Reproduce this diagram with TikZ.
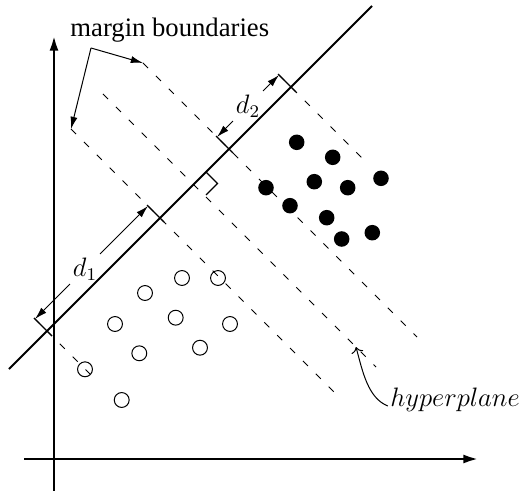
\documentclass[tikz,border=0pt]{standalone}
\usepackage{fontspec}
\setmainfont{Liberation Serif}
\usetikzlibrary{arrows.meta}
\begin{document}
\begin{tikzpicture}[x=0.45pt,y=-0.45pt,
  every node/.style={font=\fontsize{12}{14.4}\selectfont},
  axis/.style={line width=1.3pt,-{Latex[length=7pt,width=4pt]}},
  sepline/.style={line width=0.9pt},
  dashln/.style={line width=0.45pt,dash pattern=on 3.2pt off 5pt},
  tickln/.style={line width=0.6pt},
  dimarrow/.style={line width=0.45pt,-{Latex[length=5.5pt,width=3.2pt]}},
  ptr/.style={line width=0.45pt,-{Latex[length=5.5pt,width=3.2pt]}},
  hollow/.style={circle,draw,line width=0.45pt,minimum size=6.7pt,inner sep=0pt},
  blackdot/.style={circle,fill,minimum size=7pt,inner sep=0pt},
  dimlabel/.style={inner sep=1.5pt}
]
\useasboundingbox (0,0) rectangle (521,491);

% axes
\coordinate (yb) at (54,491); \coordinate (yt) at (54,35);
\coordinate (xl) at (24,459); \coordinate (xr) at (479,459);
\draw[axis] (yb) -- (yt);
\draw[axis] (xl) -- (xr);

% solid line
\coordinate (h1) at (9,369); \coordinate (h2) at (372,6);
\draw[sepline] (h1) -- (h2);

% dashed lines
\coordinate (a1) at (34,318);  \coordinate (a2) at (90,374);
\coordinate (b1) at (71,129);  \coordinate (b2) at (339,397);
\coordinate (c1) at (103,94);  \coordinate (c2) at (376,367);
\coordinate (e1) at (143,63);  \coordinate (e2) at (417,337);
\coordinate (f1) at (279,75);  \coordinate (f2) at (368,164);
\draw[dashln] (a1) -- (a2);
\draw[dashln] (b1) -- (b2);
\draw[dashln] (c1) -- (c2);
\draw[dashln] (e1) -- (e2);
\draw[dashln] (f1) -- (f2);

% ticks
\coordinate (ta1) at (34,318);  \coordinate (ta2) at (52,336);
\coordinate (tb1) at (147,205); \coordinate (tb2) at (164,222);
\coordinate (te1) at (216,136); \coordinate (te2) at (233,153);
\coordinate (tf1) at (278,74);  \coordinate (tf2) at (296,92);
\draw[tickln] (ta1) -- (ta2);
\draw[tickln] (tb1) -- (tb2);
\draw[tickln] (te1) -- (te2);
\draw[tickln] (tf1) -- (tf2);

% right angle mark
\coordinate (ra1) at (206,172); \coordinate (ra2) at (217.5,183.5); \coordinate (ra3) at (206,195);
\draw[tickln] (ra1) -- (ra2) -- (ra3);

% dimension d1
\coordinate (d1a) at (35,319); \coordinate (d1b) at (148,206);
\node[dimlabel] (d1) at (85,269) {$d_1$};
\draw[dimarrow] (d1) -- (d1a);
\draw[dimarrow] (d1) -- (d1b);

% dimension d2
\coordinate (d2a) at (217,137); \coordinate (d2b) at (279,75);
\node[dimlabel] (d2) at (248,106) {$d_2$};
\draw[dimarrow] (d2) -- (d2a);
\draw[dimarrow] (d2) -- (d2b);

% margin boundaries label
\node[anchor=base west,inner sep=0pt] (mbl) at (70,37) {margin boundaries};
\coordinate (mbc) at (91,48);
\draw[ptr] (mbc) -- (e1);
\draw[ptr] (mbc) -- (b1);

% hyperplane label
\node[anchor=base west,inner sep=0pt] (hyp) at (390,406) {$hyperplane$};
\coordinate (hp) at (356,347);
\draw[line width=0.45pt,->] ([xshift=-1pt]hyp.base west) .. controls (368,398) and (362.7,372) .. (hp);

% hollow circles
\node[hollow] (o1) at (182,278) {};
\node[hollow] (o2) at (218,278) {};
\node[hollow] (o3) at (145,293) {};
\node[hollow] (o4) at (115,324) {};
\node[hollow] (o5) at (175.7,317.7) {};
\node[hollow] (o6) at (230,324) {};
\node[hollow] (o7) at (139.3,353.3) {};
\node[hollow] (o8) at (200,347.7) {};
\node[hollow] (o9) at (85,369.3) {};
\node[hollow] (o10) at (121.7,400) {};

% black dots
\node[blackdot] (p1) at (296.7,142.3) {};
\node[blackdot] (p2) at (332.7,157.3) {};
\node[blackdot] (p3) at (266,187.7) {};
\node[blackdot] (p4) at (314.3,181.7) {};
\node[blackdot] (p5) at (347.7,187.7) {};
\node[blackdot] (p6) at (381,178.3) {};
\node[blackdot] (p7) at (290,205.7) {};
\node[blackdot] (p8) at (326.7,217.7) {};
\node[blackdot] (p9) at (341.7,239) {};
\node[blackdot] (p10) at (372.3,232.7) {};
\end{tikzpicture}
\end{document}
